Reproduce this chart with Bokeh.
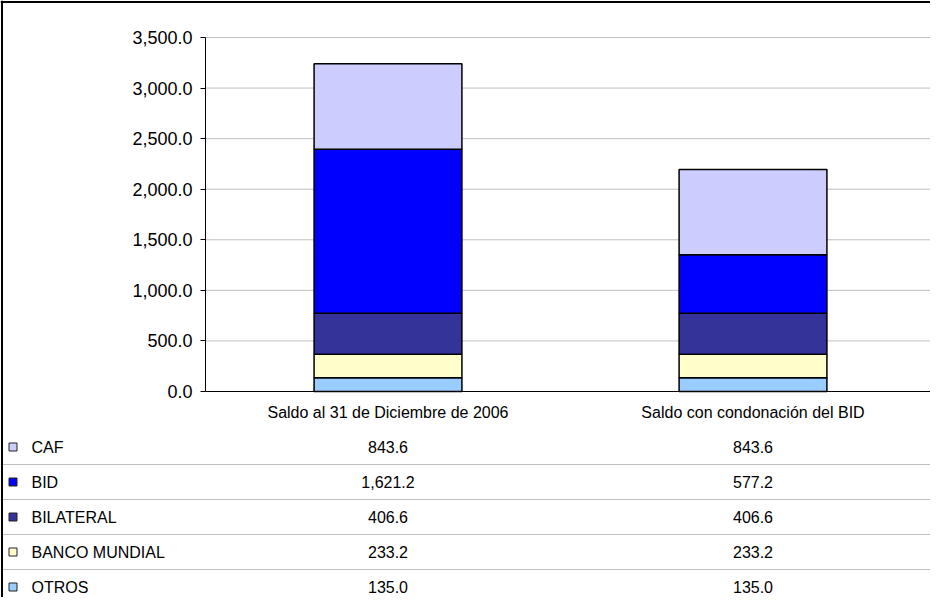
from bokeh.plotting import figure
from bokeh.models import (ColumnDataSource, Range1d, NumeralTickFormatter, FixedTicker,
                          LinearAxis)
from bokeh.core.properties import value
from bokeh.embed import file_html
from bokeh.resources import INLINE

# ---------------- data ----------------
categories = ["Saldo al 31 de Diciembre de 2006", "Saldo con condonación del BID"]
series = ["CAF", "BID", "BILATERAL", "BANCO MUNDIAL", "OTROS"]  # table order, top row first
caf = [843.6, 843.6]
bid = [1621.2, 577.2]
bilateral = [406.6, 406.6]
banco_mundial = [233.2, 233.2]
otros = [135.0, 135.0]
colors = ["#CCCCFF", "#0000FF", "#333399", "#FFFFCC", "#99CCFF"]
y_ticks = [0, 500, 1000, 1500, 2000, 2500, 3000, 3500]

values = {"CAF": caf, "BID": bid, "BILATERAL": bilateral,
          "BANCO MUNDIAL": banco_mundial, "OTROS": otros}
color_of = dict(zip(series, colors))

# ---------------- layout constants (canvas pixels) ----------------
FONT = "Liberation Sans"
W, H = 930, 597
AXIS_X = 205          # y axis position
COL_W = 365          # width of one category column
AXIS_TOP = 37        # canvas y of top tick
AXIS_BOTTOM = 391    # canvas y of zero line
TABLE_TOP = 429      # canvas y where the data table starts
ROW_H = 35

ncat = len(categories)
nrows = len(series)
y_max = y_ticks[-1]
k = (AXIS_BOTTOM - AXIS_TOP) / y_max              # px per value unit
x_start = -AXIS_X / COL_W
x_end = (W - AXIS_X) / COL_W
y_start = -(H - AXIS_BOTTOM) / k
y_end = y_max + AXIS_TOP / k
t_end = nrows + TABLE_TOP / ROW_H
t_start = nrows - (H - TABLE_TOP) / ROW_H

p = figure(x_range=Range1d(x_start, x_end), y_range=Range1d(y_start, y_end),
           width=W, height=H, min_border=0, x_axis_location=None, y_axis_location=None,
           output_backend="svg", toolbar_location=None)
p.outline_line_color = None
p.xgrid.visible = False
p.ygrid.visible = False
p.extra_y_ranges = {"table": Range1d(t_start, t_end)}

xs = [i + 0.5 for i in range(ncat)]

# gridlines (from the tick list)
p.segment(x0=[0] * len(y_ticks), x1=[x_end] * len(y_ticks), y0=y_ticks, y1=y_ticks,
          line_color="#c0c0c0", line_width=1)

# stacked bars
data = {"x": xs}
data.update(values)
src = ColumnDataSource(data)
stack = list(reversed(series))
p.vbar_stack(stack, x="x", width=0.405, source=src,
             fill_color=[color_of[s] for s in stack],
             line_color="black", line_width=1.5)

# y axis
yaxis = LinearAxis(fixed_location=0, bounds=(0, y_max),
                   ticker=FixedTicker(ticks=y_ticks),
                   formatter=NumeralTickFormatter(format="0,0.0"))
yaxis.major_tick_out = 5
yaxis.major_tick_in = 0
yaxis.minor_tick_line_color = None
yaxis.axis_line_color = "black"
yaxis.major_tick_line_color = "black"
yaxis.major_label_text_font = FONT
yaxis.major_label_text_font_size = "18px"
yaxis.major_label_text_color = "black"
yaxis.major_label_standoff = 8
p.add_layout(yaxis, "left")

# x axis (category labels)
xaxis = LinearAxis(fixed_location=0, bounds=(0, ncat),
                   ticker=FixedTicker(ticks=xs),
                   major_label_overrides={x: c for x, c in zip(xs, categories)})
xaxis.major_tick_out = 0
xaxis.major_tick_in = 0
xaxis.minor_tick_line_color = None
xaxis.axis_line_color = "black"
xaxis.major_label_text_font = FONT
xaxis.major_label_text_font_size = "16px"
xaxis.major_label_text_color = "black"
xaxis.major_label_standoff = 12
p.add_layout(xaxis, "below")

# ---------------- data table ----------------
bounds = list(range(1, nrows))
p.segment(x0=[x_start] * len(bounds), x1=[x_end] * len(bounds), y0=bounds, y1=bounds,
          line_color="#c0c0c0", line_width=1, y_range_name="table")

ys = [nrows - 0.5 - i for i in range(nrows)]
p.scatter(x=[x_start + 12.5 / COL_W] * nrows, y=ys, marker="square", size=8,
          fill_color=colors, line_color="#222222", line_width=1, y_range_name="table")
p.text(x=[x_start + 31 / COL_W] * nrows, y=ys, text=series, text_align="left",
       text_baseline="middle", text_font=value(FONT), text_font_size="16px",
       text_color="black", y_range_name="table")
for j in range(ncat):
    p.text(x=[xs[j]] * nrows, y=ys,
           text=[f"{values[s][j]:,.1f}" for s in series],
           text_align="center", text_baseline="middle",
           text_font=value(FONT), text_font_size="16px", text_color="black",
           y_range_name="table")

# outer frame (left and top border)
p.segment(x0=[x_start + 1.5 / COL_W], x1=[x_start + 1.5 / COL_W], y0=[y_start], y1=[y_end],
          line_color="black", line_width=2)
p.segment(x0=[x_start], x1=[x_end], y0=[y_end - 1.5 / k], y1=[y_end - 1.5 / k],
          line_color="black", line_width=2)

open("out.html", "w").write(file_html(p, INLINE))
